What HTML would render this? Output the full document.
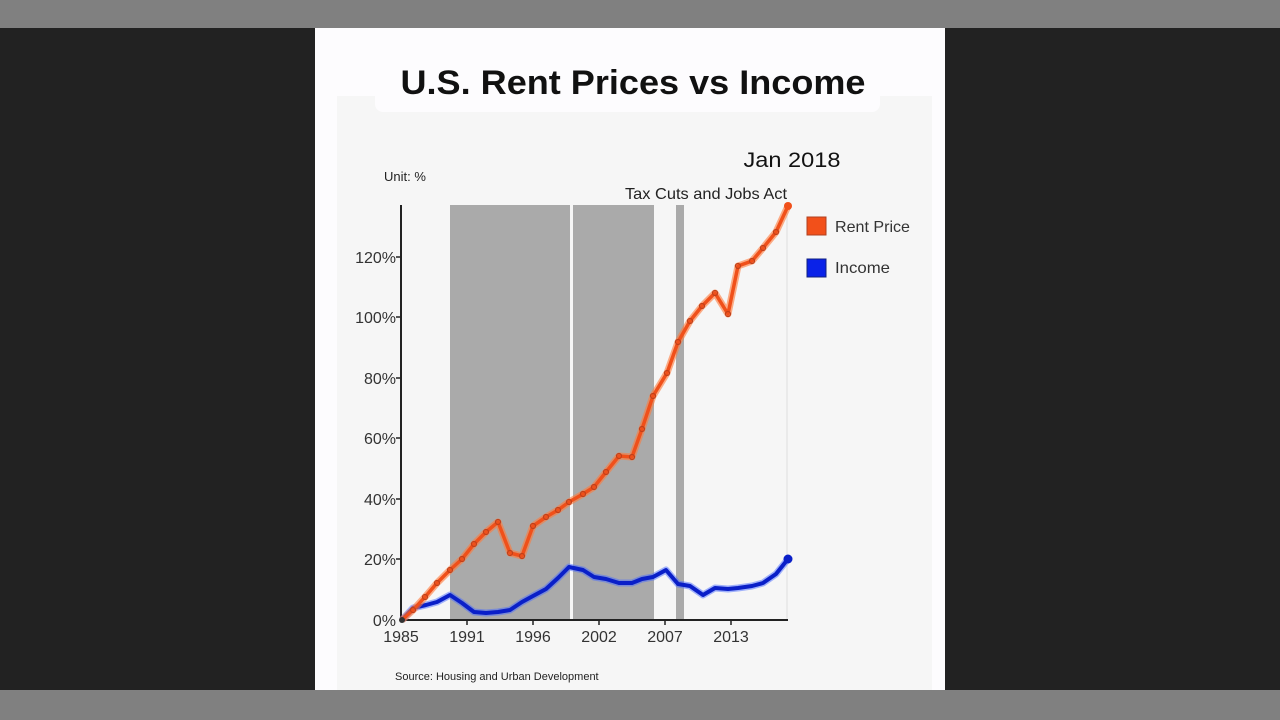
<!DOCTYPE html>
<html><head><meta charset="utf-8"><style>
html,body{margin:0;padding:0;width:1280px;height:720px;overflow:hidden;background:#222;}
svg{display:block;font-family:"Liberation Sans",sans-serif;}
</style></head><body>
<svg width="1280" height="720" viewBox="0 0 1280 720" xmlns="http://www.w3.org/2000/svg">
<rect x="0" y="0" width="1280" height="720" fill="#222"/>
<rect x="0" y="0" width="1280" height="28" fill="#808080"/>
<rect x="0" y="690" width="1280" height="30" fill="#808080"/>
<rect x="315" y="28" width="630" height="662" fill="#fdfcfe"/>
<rect x="337" y="96" width="595" height="594" fill="#f6f6f6"/>
<rect x="375" y="40" width="505" height="72" rx="8" fill="#fdfcfe"/>
<text x="633" y="94" text-anchor="middle" font-size="34" font-weight="bold" fill="#111" textLength="465" lengthAdjust="spacingAndGlyphs">U.S. Rent Prices vs Income</text>
<text x="792" y="167" text-anchor="middle" font-size="21" fill="#111" textLength="97" lengthAdjust="spacingAndGlyphs">Jan 2018</text>
<text x="384" y="181" font-size="13" fill="#222">Unit: %</text>
<text x="706" y="199" text-anchor="middle" font-size="16" fill="#222" textLength="162" lengthAdjust="spacingAndGlyphs">Tax Cuts and Jobs Act</text>
<rect x="450" y="205" width="120" height="415" fill="#aaa"/>
<rect x="573" y="205" width="81" height="415" fill="#aaa"/>
<rect x="676" y="205" width="8" height="415" fill="#aaa"/>
<line x1="787" y1="205" x2="787" y2="620" stroke="#ddd" stroke-width="1"/>
<g stroke="#222" stroke-width="2">
<line x1="401" y1="205" x2="401" y2="621"/>
<line x1="400" y1="620" x2="788" y2="620"/>
</g>
<g stroke="#222" stroke-width="1.5">
<line x1="396" y1="257" x2="401" y2="257"/><line x1="396" y1="317" x2="401" y2="317"/><line x1="396" y1="378" x2="401" y2="378"/><line x1="396" y1="438" x2="401" y2="438"/><line x1="396" y1="499" x2="401" y2="499"/><line x1="396" y1="559" x2="401" y2="559"/>
<line x1="467" y1="620" x2="467" y2="625"/><line x1="533" y1="620" x2="533" y2="625"/><line x1="599" y1="620" x2="599" y2="625"/><line x1="665" y1="620" x2="665" y2="625"/><line x1="731" y1="620" x2="731" y2="625"/>
</g>
<g font-size="16" fill="#333" text-anchor="end">
<text x="396" y="263">120%</text><text x="396" y="323">100%</text><text x="396" y="384">80%</text><text x="396" y="444">60%</text><text x="396" y="505">40%</text><text x="396" y="565">20%</text><text x="396" y="626">0%</text>
</g>
<g font-size="16" fill="#333" text-anchor="middle">
<text x="401" y="642">1985</text><text x="467" y="642">1991</text><text x="533" y="642">1996</text><text x="599" y="642">2002</text><text x="665" y="642">2007</text><text x="731" y="642">2013</text>
</g>
<text x="395" y="680" font-size="11" fill="#222">Source: Housing and Urban Development</text>
<polyline fill="none" stroke="#4a6cff" stroke-width="7" stroke-opacity="0.5" stroke-linejoin="round" points="402,620 413,608 426,605 437,602 450,595 462,603 474,612 486,613 498,612 510,610 522,602 533,596 546,589 558,578 569,567 583,570 594,577 606,579 619,583 632,583 642,579 653,577 666,570 678,584 690,586 703,595 715,588 728,589 738,588 752,586 763,583 776,574 788,559"/>
<polyline fill="none" stroke="#0a1fc8" stroke-width="4" stroke-linejoin="round" stroke-dasharray="" points="402,620 413,608 426,605 437,602 450,595 462,603 474,612 486,613 498,612 510,610 522,602 533,596 546,589 558,578 569,567 583,570 594,577 606,579 619,583 632,583 642,579 653,577 666,570 678,584 690,586 703,595 715,588 728,589 738,588 752,586 763,583 776,574 788,559"/>
<polyline fill="none" stroke="#ff7a3a" stroke-width="7" stroke-opacity="0.6" stroke-linejoin="round" points="402,620 413,610 425,597 437,583 450,570 462,559 474,544 486,532 498,522 510,553 522,556 533,526 546,517 558,510 569,502 583,494 594,487 606,472 619,456 632,457 642,429 653,396 667,373 678,342 690,321 702,306 715,293 728,314 738,266 752,261 763,248 776,232 788,206"/>
<polyline fill="none" stroke="#f0501a" stroke-width="3.5" stroke-linejoin="round" points="402,620 413,610 425,597 437,583 450,570 462,559 474,544 486,532 498,522 510,553 522,556 533,526 546,517 558,510 569,502 583,494 594,487 606,472 619,456 632,457 642,429 653,396 667,373 678,342 690,321 702,306 715,293 728,314 738,266 752,261 763,248 776,232 788,206"/>
<g fill="none" stroke="#c0401a" stroke-width="1.2">
<circle cx="413" cy="610" r="2.5"/><circle cx="425" cy="597" r="2.5"/><circle cx="437" cy="583" r="2.5"/><circle cx="450" cy="570" r="2.5"/><circle cx="462" cy="559" r="2.5"/><circle cx="474" cy="544" r="2.5"/><circle cx="486" cy="532" r="2.5"/><circle cx="498" cy="522" r="2.5"/><circle cx="510" cy="553" r="2.5"/><circle cx="522" cy="556" r="2.5"/><circle cx="533" cy="526" r="2.5"/><circle cx="546" cy="517" r="2.5"/><circle cx="558" cy="510" r="2.5"/><circle cx="569" cy="502" r="2.5"/><circle cx="583" cy="494" r="2.5"/><circle cx="594" cy="487" r="2.5"/><circle cx="606" cy="472" r="2.5"/><circle cx="619" cy="456" r="2.5"/><circle cx="632" cy="457" r="2.5"/><circle cx="642" cy="429" r="2.5"/><circle cx="653" cy="396" r="2.5"/><circle cx="667" cy="373" r="2.5"/><circle cx="678" cy="342" r="2.5"/><circle cx="690" cy="321" r="2.5"/><circle cx="702" cy="306" r="2.5"/><circle cx="715" cy="293" r="2.5"/><circle cx="728" cy="314" r="2.5"/><circle cx="738" cy="266" r="2.5"/><circle cx="752" cy="261" r="2.5"/><circle cx="763" cy="248" r="2.5"/><circle cx="776" cy="232" r="2.5"/>
</g>
<circle cx="788" cy="206" r="4" fill="#f0501a"/>
<circle cx="788" cy="559" r="4.5" fill="#0a1fc8"/>
<circle cx="402" cy="620" r="3" fill="#333"/>
<rect x="807" y="217" width="19" height="18" fill="#f2501a" stroke="#b04020" stroke-width="1"/>
<rect x="807" y="259" width="19" height="18" fill="#0a22e8" stroke="#102080" stroke-width="1"/>
<text x="835" y="232" font-size="16" fill="#333" textLength="75" lengthAdjust="spacingAndGlyphs">Rent Price</text>
<text x="835" y="273" font-size="16" fill="#333" textLength="55" lengthAdjust="spacingAndGlyphs">Income</text>
</svg>
</body></html>
